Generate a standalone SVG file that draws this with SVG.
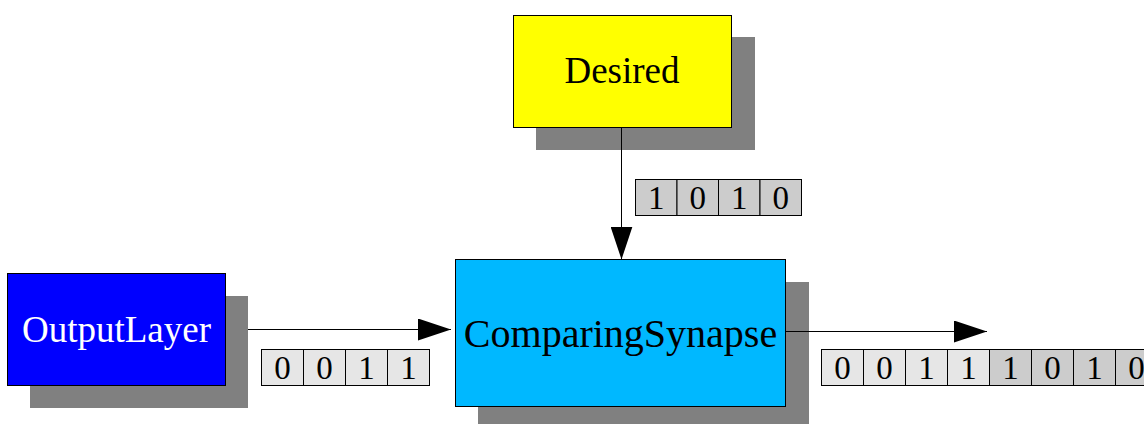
<svg xmlns="http://www.w3.org/2000/svg" width="1144" height="424" viewBox="0 0 1144 424">
<defs>
<style>
.sh{fill:#808080}
.bx{stroke:#000;stroke-width:1}
.lbl{font-family:"Liberation Serif","Times New Roman",serif;text-anchor:middle}
.cell{stroke:#000;stroke-width:1}
.c1{fill:#e6e6e6}
.c2{fill:#cccccc}
.dg{font-family:"Liberation Serif","Times New Roman",serif;font-size:33px;text-anchor:middle;fill:#000}
.ln{stroke:#000;stroke-width:1;fill:none}
</style>
<marker id="ah" markerWidth="33" markerHeight="22" refX="33" refY="11" orient="auto" markerUnits="userSpaceOnUse">
<path d="M0,0 L33,11 L0,22 Z" fill="#000"/>
</marker>
</defs>
<rect width="1144" height="424" fill="#fff"/>
<g id="desired">
<rect class="sh" x="536" y="37" width="219" height="113"/>
<rect class="bx" x="513.5" y="15.5" width="218" height="112" fill="#ffff00"/>
<text class="lbl" x="622" y="83" font-size="37" fill="#000">Desired</text>
</g>
<g id="outputlayer">
<rect class="sh" x="30" y="296" width="218" height="112"/>
<rect class="bx" x="7.5" y="273.5" width="218" height="112" fill="#0000ff"/>
<text class="lbl" x="116.5" y="342" font-size="37" fill="#fff">OutputLayer</text>
</g>
<g id="comparingsynapse">
<rect class="sh" x="478" y="282" width="331" height="147"/>
<rect class="bx" x="455.5" y="259.5" width="330" height="147" fill="#00b8ff"/>
<text class="lbl" x="620.5" y="347" font-size="40" fill="#000">ComparingSynapse</text>
</g>
<g id="label-desired">
<rect class="cell c2" x="635.5" y="179.5" width="41.5" height="36"/>
<rect class="cell c2" x="677" y="179.5" width="41.5" height="36"/>
<rect class="cell c2" x="718.5" y="179.5" width="41.5" height="36"/>
<rect class="cell c2" x="760" y="179.5" width="41.5" height="36"/>
<text class="dg" x="656.25" y="209">1</text>
<text class="dg" x="697.75" y="209">0</text>
<text class="dg" x="739.25" y="209">1</text>
<text class="dg" x="780.75" y="209">0</text>
</g>
<g id="label-output">
<rect class="cell c1" x="261.5" y="349.5" width="42" height="36"/>
<rect class="cell c1" x="303.5" y="349.5" width="42" height="36"/>
<rect class="cell c1" x="345.5" y="349.5" width="42" height="36"/>
<rect class="cell c1" x="387.5" y="349.5" width="42" height="36"/>
<text class="dg" x="282.5" y="379">0</text>
<text class="dg" x="324.5" y="379">0</text>
<text class="dg" x="366.5" y="379">1</text>
<text class="dg" x="408.5" y="379">1</text>
</g>
<g id="label-result">
<rect class="cell c1" x="821.5" y="349.5" width="42" height="36"/>
<rect class="cell c1" x="863.5" y="349.5" width="42" height="36"/>
<rect class="cell c1" x="905.5" y="349.5" width="42" height="36"/>
<rect class="cell c1" x="947.5" y="349.5" width="42" height="36"/>
<rect class="cell c2" x="989.5" y="349.5" width="42" height="36"/>
<rect class="cell c2" x="1031.5" y="349.5" width="42" height="36"/>
<rect class="cell c2" x="1073.5" y="349.5" width="42" height="36"/>
<rect class="cell c2" x="1115.5" y="349.5" width="42" height="36"/>
<text class="dg" x="842.5" y="379">0</text>
<text class="dg" x="884.5" y="379">0</text>
<text class="dg" x="926.5" y="379">1</text>
<text class="dg" x="968.5" y="379">1</text>
<text class="dg" x="1010.5" y="379">1</text>
<text class="dg" x="1052.5" y="379">0</text>
<text class="dg" x="1094.5" y="379">1</text>
<text class="dg" x="1136.5" y="379">0</text>
</g>
<g id="connectors">
<line class="ln" x1="621.5" y1="127.5" x2="621.5" y2="259.5" marker-end="url(#ah)"/>
<line class="ln" x1="248" y1="329.5" x2="451" y2="329.5" marker-end="url(#ah)"/>
<line class="ln" x1="786" y1="331.5" x2="987" y2="331.5" marker-end="url(#ah)"/>
</g>
</svg>
